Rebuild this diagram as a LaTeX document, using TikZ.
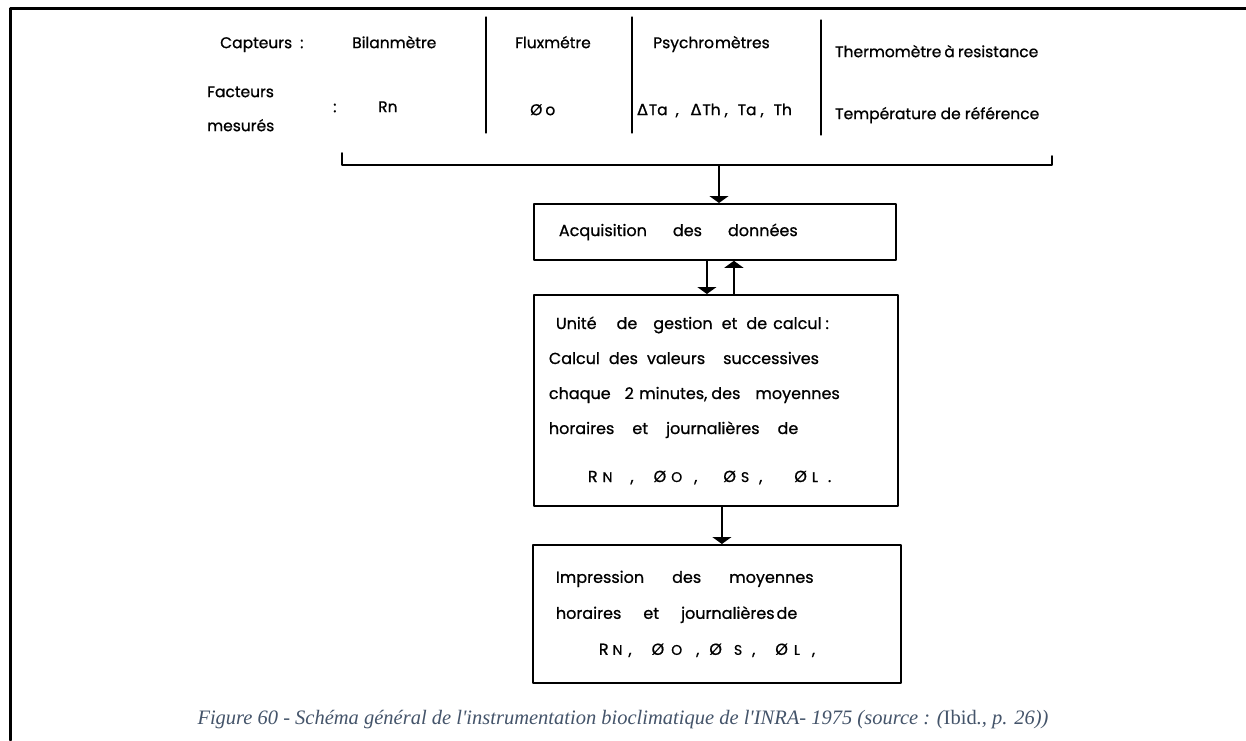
\documentclass[tikz,border=0pt]{standalone}
\usepackage{fontspec}
\setsansfont{Poppins}[FakeBold=0.8]
\newfontfamily\deltafont{DejaVu Sans}[FakeBold=0.8]
\newfontfamily\legendefont{Liberation Serif}
\usetikzlibrary{arrows.meta}
\newcommand{\pc}[1]{{\fontsize{14}{15}\selectfont #1}}

\begin{document}
\begin{tikzpicture}[x=1pt, y=-1pt, line join=round, line cap=round,
    lettrage/.style={font=\sffamily\fontsize{15.5}{18}\selectfont, inner sep=0pt, anchor=mid west},
    boite/.style={draw, line width=1.8pt, anchor=north west, align=left, font=\sffamily\fontsize{16}{18}\selectfont},
    fleche/.style={line width=1.4pt, -{Triangle[width=19pt, length=7pt]}}]
  \definecolor{cLegende}{RGB}{68, 84, 106}

  \useasboundingbox (0,0) rectangle (1246,740);
  \fill[white] (0,0) rectangle (1246,740);
  \draw[line width=3pt] (10,740) -- (10,8) -- (1246,8);

  \node[lettrage] (capteurs) at (220,46) {Capteurs\hspace{8pt}:};
  \node[lettrage] (bilan) at (352,46) {Bilanmètre};
  \node[lettrage] (flux) at (515,46) {Fluxmétre};
  \node[lettrage] (psychro) at (653,46) {Psychro\hspace{1pt}mètres};
  \node[lettrage] (thermo) at (835,55) {Thermomètre\hspace{3pt}à\hspace{3pt}resistance};

  \node[lettrage] (facteurs) at (207,95) {Facteurs};
  \node[lettrage] (mesures) at (207,129) {mesurés};
  \node[lettrage] (deuxpts) at (333,110) {:};
  \node[lettrage] (rn) at (378,110) {Rn};
  \node[lettrage] (phio) at (530,113) {Ø\hspace{3pt}o};
  \node[lettrage] (deltas) at (637,113)
    {{\deltafont Δ}\hspace{1pt}Ta\hspace{8pt},\hspace{12pt}{\deltafont Δ}\hspace{1pt}Th\hspace{4pt},\hspace{10pt}Ta\hspace{4pt},\hspace{10pt}Th};
  \node[lettrage] (tempref) at (835,117) {Température de référence};

  \coordinate (S1) at (486,17);
  \coordinate (S2) at (632,17);
  \coordinate (S3) at (821,20);
  \draw[line width=1.3pt] (S1) -- ++(0,116);
  \draw[line width=1.3pt] (S2) -- ++(0,116);
  \draw[line width=1.3pt] (S3) -- ++(0,115);

  \coordinate (crochet) at (719,165);
  \draw[line width=1.6pt] (342,153) -- (342,165) -- (1052,165) -- (1052,156);

  \node[boite, minimum width=362, minimum height=56, text width=312, inner xsep=25pt] (acq) at (533,203)
    {Acquisition\hspace{26pt}des\hspace{26pt}données};

  \node[boite, minimum width=364, minimum height=211, text width=334, inner xsep=15pt] (calcul) at (533,294)
    {\hspace{7pt}Unité\hspace{20pt}de\hspace{16pt}gestion\hspace{9pt}et\hspace{9pt}de\hspace{6pt}calcul\hspace{4pt}:\\[17pt]
     Calcul\hspace{9pt}des\hspace{9pt}valeurs\hspace{18pt}successives\\[17pt]
     chaque\hspace{14pt}2 minutes,\hspace{4pt}des\hspace{15pt}moyennes\\[17pt]
     horaires\hspace{18pt}et\hspace{18pt}journalières\hspace{18pt}de\\[30pt]
     \hspace{39pt}R\hspace{5pt}\pc{N}\hspace{18pt},\hspace{20pt}Ø\hspace{5pt}\pc{O}\hspace{12pt},\hspace{26pt}Ø\hspace{5pt}\pc{S}\hspace{10pt},\hspace{32pt}Ø\hspace{5pt}\pc{L}\hspace{10pt}.};

  \node[boite, minimum width=368, minimum height=138, text width=322, inner xsep=23pt] (impr) at (532,544)
    {Impression\hspace{28pt}des\hspace{28pt}moyennes\\[18pt]
     horaires\hspace{22pt}et\hspace{22pt}journalières\hspace{2pt}de\\[18pt]
     \hspace{43pt}R\hspace{4pt}\pc{N}\hspace{6pt},\hspace{20pt}Ø\hspace{7pt}\pc{O}\hspace{14pt},\hspace{10pt}Ø\hspace{12pt}\pc{S}\hspace{10pt},\hspace{20pt}Ø\hspace{6pt}\pc{L}\hspace{12pt},};

  \draw[fleche] (crochet) -- (crochet |- acq.north);
  \draw[fleche] ([xshift=-8pt]acq.south) -- ([xshift=-8pt]acq.south |- calcul.north);
  \draw[fleche] ([xshift=18pt]calcul.north) -- ([xshift=18pt]calcul.north |- acq.south);
  \draw[fleche] ([xshift=6pt]calcul.south) -- ([xshift=6pt]calcul.south |- impr.north);

  \node[font=\legendefont\itshape\fontsize{20.5}{23}\selectfont, text=cLegende] (legende) at (623,720)
    {Figure 60 - Schéma général de l'instrumentation bioclimatique de l'INRA- 1975 (source : ({\upshape Ibid}., p. 26))};
\end{tikzpicture}
\end{document}
